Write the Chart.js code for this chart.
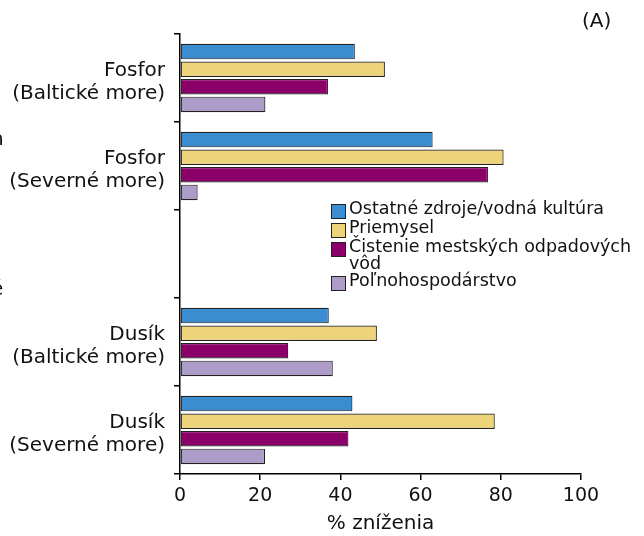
<!DOCTYPE html>
<html>
<head>
<meta charset="utf-8">
<script src="https://cdn.jsdelivr.net/npm/chart.js@4"></script>
<style>
html,body{margin:0;padding:0;background:#fff;}
#wrap{position:relative;width:644px;height:536px;}
</style>
</head>
<body>
<div id="wrap"><canvas id="c" width="644" height="536"></canvas></div>
<script>
const categories = [["Fosfor","(Baltické more)"], ["Fosfor","(Severné more)"], "", ["Dusík","(Baltické more)"], ["Dusík","(Severné more)"]];
const seriesNames = ["Ostatné zdroje/vodná kultúra", "Priemysel", "Čistenie mestských odpadových vôd", "Poľnohospodárstvo"];
const legendLines = [["Ostatné zdroje/vodná kultúra"], ["Priemysel"], ["Čistenie mestských odpadových", "vôd"], ["Poľnohospodárstvo"]];
const ostatne = [43.6, 63.0, null, 37.1, 43.0];
const priemysel = [51.1, 80.7, null, 49.1, 78.5];
const cistenie = [36.9, 76.8, null, 27.0, 42.0];
const polno = [21.3, 4.4, null, 38.1, 21.2];
const xTicks = [0, 20, 40, 60, 80, 100];
const colors = ["#3b8dcf", "#edd379", "#8b0068", "#ad9cc7"];
const FONT = "'DejaVu Sans', Verdana, sans-serif";

const extraText = {
  id: 'extraText',
  afterDraw(chart) {
    const ctx = chart.ctx;
    ctx.save();
    ctx.fillStyle = '#111';
    ctx.textBaseline = 'middle';
    ctx.textAlign = 'left';
    // panel tag
    ctx.font = '20px ' + FONT;
    ctx.fillText('(A)', 582, 22);
    // clipped fragments at the left edge
    ctx.fillText('n', -9, 140);
    ctx.fillText('é', -9, 290);
    // legend
    ctx.font = '17.5px ' + FONT;
    let y = 211;
    const lx = 331, tx = 349;
    legendLines.forEach((lines, i) => {
      ctx.fillStyle = colors[i];
      ctx.fillRect(lx, y - 7, 15, 15);
      ctx.strokeStyle = '#222';
      ctx.lineWidth = 1;
      ctx.strokeRect(lx + 0.5, y - 6.5, 14, 14);
      ctx.fillStyle = '#111';
      lines.forEach((t, j) => ctx.fillText(t, tx, y - 2 + j * 17));
      y += 19 + (lines.length - 1) * 17 + (i === 2 ? -2 : 0);
    });
    ctx.restore();
  }
};

new Chart(document.getElementById('c'), {
  type: 'bar',
  data: {
    labels: categories,
    datasets: [
      {label: seriesNames[0], data: ostatne, backgroundColor: colors[0]},
      {label: seriesNames[1], data: priemysel, backgroundColor: colors[1]},
      {label: seriesNames[2], data: cistenie, backgroundColor: colors[2]},
      {label: seriesNames[3], data: polno, backgroundColor: colors[3]}
    ].map(d => Object.assign(d, {borderColor: '#222', borderWidth: 1.2, borderSkipped: false, categoryPercentage: 0.8, barPercentage: 0.88}))
  },
  options: {
    indexAxis: 'y',
    responsive: false,
    animation: false,
    layout: {padding: {top: 34, right: 63, left: 0, bottom: 0}},
    plugins: {legend: {display: false}, tooltip: {enabled: false}},
    scales: {
      x: {
        min: 0, max: 100,
        afterBuildTicks(s) { s.ticks = xTicks.map(v => ({value: v})); },
        afterFit(s) { s.height = 62; },
        grid: {drawOnChartArea: false, tickLength: 6, color: '#000', lineWidth: 1.5},
        border: {color: '#000', width: 1.5},
        ticks: {color: '#111', font: {family: FONT, size: 19}, padding: 5},
        title: {display: true, text: '% zníženia', color: '#111', font: {family: FONT, size: 20}, padding: {top: 0, bottom: 0}}
      },
      y: {
        afterFit(s) { s.width = 180; },
        grid: {drawOnChartArea: false, tickLength: 6, color: '#000', lineWidth: 1.5, offset: true},
        border: {color: '#000', width: 1.5},
        ticks: {color: '#111', font: {family: FONT, size: 20, lineHeight: 1.15}, padding: 9, labelOffset: 4}
      }
    }
  },
  plugins: [extraText]
});
</script>
</body>
</html>
